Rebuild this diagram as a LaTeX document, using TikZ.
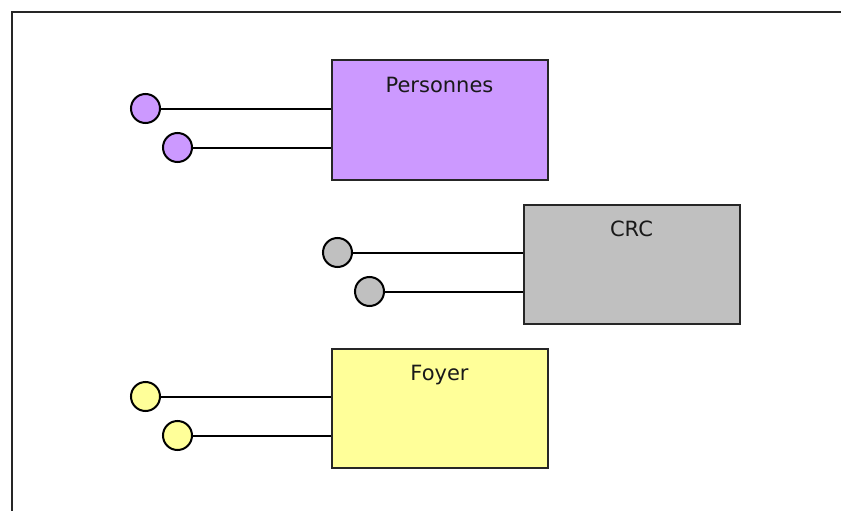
\documentclass[tikz,border=0pt]{standalone}
\usepackage{fontspec}
\setmainfont{DejaVu Sans}
\definecolor{cpurple}{HTML}{CC99FF}
\definecolor{cgray}{HTML}{C0C0C0}
\definecolor{cyellow}{HTML}{FFFF99}
\begin{document}
\begin{tikzpicture}[x=1pt,y=-1pt,
  entity/.style={draw=black!85, line width=2pt, rectangle, minimum width=216pt, minimum height=119.5pt, inner sep=0pt},
  port/.style={draw=black, line width=2pt, circle, minimum size=29pt, inner sep=0pt},
  link/.style={draw=black, line width=2pt},
  lbl/.style={anchor=base, font=\fontsize{21}{25}\selectfont, inner sep=0pt, text=black!90}]
\useasboundingbox (0,0) rectangle (841,511);
\draw[line width=2pt, black!85] (11.5,511) -- (11.5,12.3) -- (841,12.3);

% Personnes
\node[entity, fill=cpurple] (pers) at (439.5,120.25) {};
\node[lbl] (persl) at (439.5,92.7) {Personnes};
\node[port, fill=cpurple] (p1) at (145.5,108.5) {};
\node[port, fill=cpurple] (p2) at (177.5,147.5) {};
\draw[link] (p1.east) -- (p1.east -| pers.west);
\draw[link] (p2.east) -- (p2.east -| pers.west);

% CRC
\node[entity, fill=cgray] (crc) at (631.5,264.25) {};
\node[lbl] (crcl) at (631.5,236.7) {CRC};
\node[port, fill=cgray] (c1) at (337.5,252.5) {};
\node[port, fill=cgray] (c2) at (369.5,291.5) {};
\draw[link] (c1.east) -- (c1.east -| crc.west);
\draw[link] (c2.east) -- (c2.east -| crc.west);

% Foyer
\node[entity, fill=cyellow] (foy) at (439.5,408.25) {};
\node[lbl] (foyl) at (439.5,380.5) {Foyer};
\node[port, fill=cyellow] (f1) at (145.5,396.5) {};
\node[port, fill=cyellow] (f2) at (177.5,435.5) {};
\draw[link] (f1.east) -- (f1.east -| foy.west);
\draw[link] (f2.east) -- (f2.east -| foy.west);
\end{tikzpicture}
\end{document}
